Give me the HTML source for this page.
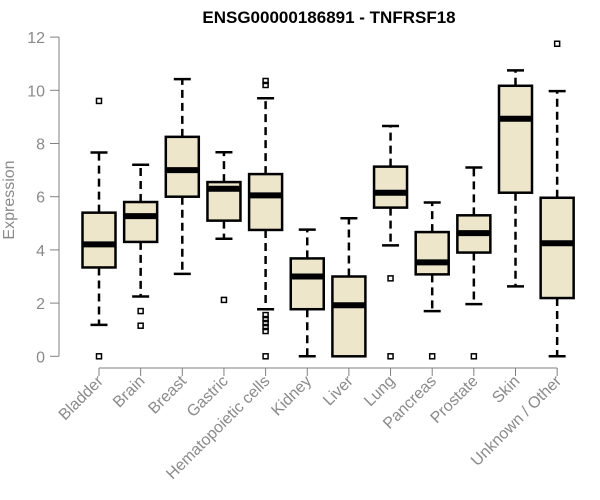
<!DOCTYPE html>
<html><head><meta charset="utf-8"><style>
body{margin:0;background:#fff}
svg{display:block;font-family:"Liberation Sans",Arial,sans-serif}
</style></head><body>
<svg id="chart" width="600" height="500">
<text x="329" y="23" text-anchor="middle" font-weight="bold" font-size="17" fill="#000">ENSG00000186891 - TNFRSF18</text>
<text transform="translate(14,200) rotate(-90)" text-anchor="middle" font-size="16" fill="#8a8a8a">Expression</text>
<g id="axes"></g><g id="boxes"></g>
</svg>
<script>
const categories=["Bladder","Brain","Breast","Gastric","Hematopoietic cells","Kidney","Liver","Lung","Pancreas","Prostate","Skin","Unknown / Other"];
const whiskerLow=[1.18,2.25,3.1,4.42,1.77,0,0,4.17,1.7,1.96,2.63,0];
const q1=[3.34,4.3,6.0,5.1,4.75,1.77,0,5.59,3.08,3.9,6.15,2.19];
const medians=[4.21,5.27,7.0,6.3,6.05,3.0,1.92,6.15,3.53,4.63,8.93,4.25];
const q3=[5.4,5.8,8.25,6.55,6.85,3.68,3.0,7.13,4.67,5.3,10.17,5.96];
const whiskerHigh=[7.66,7.2,10.42,7.67,9.7,4.76,5.19,8.66,5.78,7.1,10.75,9.97];
const outliers=[[9.6,0],[1.7,1.15],[],[2.12],[10.35,10.2,1.55,1.4,1.25,1.1,0.95,0],[],[],[2.93,0],[0],[0],[],[11.75]];
const yTicks=[0,2,4,6,8,10,12];
const NS="http://www.w3.org/2000/svg";
const y=v=>356.3-v*26.6;
const x=i=>99+i*41.65;
function mk(tag,attrs,parent){const e=document.createElementNS(NS,tag);for(const k in attrs)e.setAttribute(k,attrs[k]);parent.appendChild(e);return e;}
const ax=document.getElementById('axes'),bx=document.getElementById('boxes');
const yl=mk('line',{x1:59,x2:59,y1:y(0),y2:y(12),stroke:'#808080'},ax);


yTicks.forEach(t=>{
  const tk=mk('line',{x1:50,x2:59,y1:y(t),y2:y(t),stroke:'#808080'},ax);
  
  
  const tl=mk('text',{x:45,y:y(t)+6,'text-anchor':'end','font-size':16,fill:'#8a8a8a'},ax);
  tl.textContent=t;
  
  
});
const xl=mk('line',{x1:x(0),x2:x(categories.length-1),y1:368,y2:368,stroke:'#808080'},ax);


categories.forEach((c,i)=>{
  const cx=x(i),hw=16.5;
  const tk=mk('line',{x1:cx,x2:cx,y1:368,y2:376,stroke:'#808080'},ax);
  
  
  const tl=mk('text',{transform:`translate(${cx+5},${382}) rotate(-45)`,'text-anchor':'end','font-size':16,fill:'#8a8a8a'},ax);
  tl.textContent=c;
  
  
  const g=mk('g',{},bx);
  
  
  mk('line',{x1:cx,x2:cx,y1:y(q3[i]),y2:y(whiskerHigh[i]),stroke:'#000','stroke-width':2.5,'stroke-dasharray':'8,5'},g);
  mk('line',{x1:cx,x2:cx,y1:y(q1[i]),y2:y(whiskerLow[i]),stroke:'#000','stroke-width':2.5,'stroke-dasharray':'8,5'},g);
  mk('line',{x1:cx-8.5,x2:cx+8.5,y1:y(whiskerHigh[i]),y2:y(whiskerHigh[i]),stroke:'#000','stroke-width':2.5},g);
  mk('line',{x1:cx-8.5,x2:cx+8.5,y1:y(whiskerLow[i]),y2:y(whiskerLow[i]),stroke:'#000','stroke-width':2.5},g);
  mk('rect',{x:cx-hw,y:y(q3[i]),width:hw*2,height:Math.max(0,y(q1[i])-y(q3[i])),fill:'#ede6cb',stroke:'#000','stroke-width':2.5},g);
  mk('line',{x1:cx-hw,x2:cx+hw,y1:y(medians[i]),y2:y(medians[i]),stroke:'#000','stroke-width':6},g);
  outliers[i].forEach(o=>{
    const p=mk('rect',{x:cx-2.5,y:y(o)-2.5,width:5,height:5,fill:'none',stroke:'#000','stroke-width':1.5},g);
    
    
  });
});
</script>
</body></html>
